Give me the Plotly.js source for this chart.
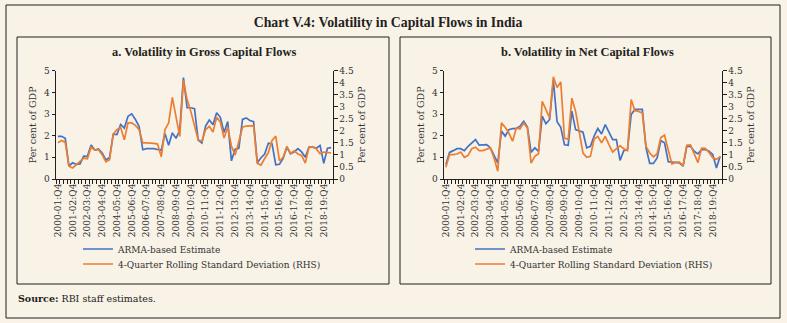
<!DOCTYPE html>
<html>
<head>
<meta charset="utf-8">
<script src="https://cdn.plot.ly/plotly-3.0.1.min.js"></script>
<style>
html,body{margin:0;padding:0;background:#f8f2e7;}
#chart{width:787px;height:323px;}
</style>
</head>
<body>
<div id="chart"></div>
<script>
// Quarter categories: 2000-01:Q4 ... 2019-20:Q2
const quarters = ["2000-01:Q4"];
for (let y = 2001; y <= 2019; y++) {
  const fy = y + "-" + String((y + 1) % 100).padStart(2, "0");
  for (const q of ["Q1", "Q2", "Q3", "Q4"]) {
    if (y === 2019 && q === "Q3") break;
    quarters.push(fy + ":" + q);
  }
}
const tickLabels = quarters.map((c, i) => (i % 4 === 0 ? c : ""));

// a. Gross capital flows
const grossArma = [1.97,1.97,1.88,0.60,0.75,0.68,0.70,1.06,1.05,1.57,
  1.34,1.39,1.20,0.88,0.99,2.07,2.05,2.52,2.35,2.90,
  3.01,2.75,2.42,1.35,1.40,1.41,1.40,1.36,1.33,2.10,
  1.56,2.13,1.88,2.25,4.68,3.29,3.29,3.25,1.80,1.66,
  2.44,2.72,2.51,3.06,2.85,2.15,2.65,0.84,1.38,1.42,
  2.75,2.82,2.70,2.65,0.75,0.98,1.15,1.65,1.62,0.66,
  0.68,0.95,1.47,1.16,1.25,1.40,1.25,1.00,1.47,1.47,
  1.42,1.55,0.72,1.42,1.45];
const grossRsd = [1.50,1.60,1.52,0.53,0.46,0.60,0.71,0.87,0.84,1.32,
  1.20,1.22,1.01,0.71,0.80,1.87,2.05,2.15,1.63,2.33,
  2.33,2.23,2.05,1.50,1.50,1.50,1.48,1.45,0.92,2.05,
  2.33,3.39,2.55,1.77,4.10,3.30,2.81,2.19,1.63,1.57,
  2.05,2.19,1.95,2.56,2.37,1.70,2.15,1.37,1.00,1.55,
  2.15,2.20,2.20,2.22,0.65,0.58,0.85,1.10,1.60,1.78,
  0.75,0.90,1.35,1.06,1.17,1.04,0.98,0.66,1.32,1.34,
  1.25,1.05,1.12,1.10,1.08];

// b. Net capital flows
const netArma = [0.66,1.23,1.31,1.40,1.40,1.31,1.51,1.67,1.82,1.56,
  1.56,1.59,1.44,1.05,0.74,2.21,1.98,2.28,2.33,2.33,
  2.44,2.67,2.40,1.23,1.44,1.28,2.90,2.55,2.75,4.55,
  2.65,2.39,1.58,1.56,3.13,2.28,2.21,2.16,1.44,1.51,
  1.98,2.33,2.08,2.51,2.16,1.82,1.82,0.86,1.31,1.36,
  2.98,3.21,3.21,3.21,1.44,0.72,0.72,0.97,1.77,1.67,
  0.80,0.77,0.74,0.74,0.59,1.51,1.51,1.28,1.16,1.36,
  1.36,1.28,1.13,0.51,1.05];
const netRsd = [0.49,1.01,1.01,1.04,1.12,0.90,0.98,1.26,1.32,1.18,
  1.18,1.22,1.29,0.87,0.32,2.33,2.15,1.91,1.57,2.12,
  2.08,2.33,2.12,0.66,0.94,1.05,3.23,2.88,2.54,4.25,
  3.80,4.03,1.70,1.65,3.36,2.81,1.91,1.08,0.90,0.94,
  1.66,1.77,1.50,1.77,1.43,1.12,1.26,1.38,1.26,1.18,
  3.30,2.84,2.81,2.74,1.35,1.08,0.92,1.05,1.72,1.82,
  1.20,0.62,0.70,0.70,0.55,1.40,1.42,1.08,0.68,1.28,
  1.27,1.10,0.88,0.82,0.92];

const seriesNames = ["ARMA-based Estimate", "4-Quarter Rolling Standard Deviation (RHS)"];
const panelTitles = ["a. Volatility in Gross Capital Flows", "b. Volatility in Net Capital Flows"];
const chartTitle = "Chart V.4: Volatility in Capital Flows in India";
const yTitle = "Per cent of GDP";
const sourceText = "<b>Source:</b> RBI staff estimates.";

const BLUE = "#4472c4", ORANGE = "#ed7d31", BG = "#f8f2e7", INK = "#231f20", TXT = "#333333";
const W = 787, H = 323;
const px = x => x / W, py = y => 1 - y / H;
const serif = "DejaVu Serif, serif";

function line(x, y, color, xa, ya, name, legend) {
  return {type: "scatter", mode: "lines", x: x, y: y, xaxis: xa, yaxis: ya, name: name,
    legend: legend, line: {color: color, width: 1.7}, hoverinfo: "skip"};
}
const data = [
  line(quarters, grossArma, BLUE, "x", "y", seriesNames[0], "legend"),
  line(quarters, grossRsd, ORANGE, "x", "y2", seriesNames[1], "legend2"),
  line(quarters, netArma, BLUE, "x2", "y3", seriesNames[0], "legend3"),
  line(quarters, netRsd, ORANGE, "x2", "y4", seriesNames[1], "legend4")
];

const tickFont = {family: serif, size: 9, color: TXT};
function xax(domain, anchor) {
  return {domain: domain, anchor: anchor, type: "category", range: [-0.5, quarters.length - 0.5],
    tickmode: "array", tickvals: quarters, ticktext: tickLabels, tickangle: -90,
    tickson: "boundaries", ticks: "outside", ticklen: 3.5, tickcolor: INK, tickwidth: 1,
    showline: true, linecolor: INK, linewidth: 1, showgrid: false, zeroline: false,
    tickfont: tickFont, fixedrange: true};
}
function yax(anchor, side, max, dtick, overlay) {
  const a = {anchor: anchor, side: side, range: [0, max], dtick: dtick, tick0: 0,
    ticks: "outside", ticklen: 3.5, tickcolor: INK, showline: true, linecolor: INK, linewidth: 1,
    showgrid: false, zeroline: false, tickfont: tickFont, fixedrange: true,
    title: {text: yTitle, font: {family: serif, size: 9.5, color: TXT}, standoff: 5},
    domain: [py(179), py(70.7)]};
  if (overlay) a.overlaying = overlay;
  return a;
}

const frames = [
  {x0: 6, y0: 5, x1: 780, y1: 318},
  {x0: 17, y0: 37, x1: 389, y1: 284},
  {x0: 400, y0: 37, x1: 771, y1: 284}
].map(r => ({type: "rect", xref: "paper", yref: "paper", x0: px(r.x0), x1: px(r.x1),
  y0: py(r.y1), y1: py(r.y0), line: {color: INK, width: 1}, fillcolor: "rgba(0,0,0,0)", layer: "below"}));

const legendBase = {orientation: "v", xanchor: "left", yanchor: "middle", bgcolor: "rgba(0,0,0,0)",
  font: {family: serif, size: 9, color: TXT}, itemwidth: 30, tracegroupgap: 0};
const legendSpots = [[78, 249], [78, 264], [470, 249], [470, 264]];

const layout = {
  width: W, height: H, margin: {l: 0, r: 0, t: 0, b: 0},
  paper_bgcolor: BG, plot_bgcolor: BG, showlegend: true,
  title: {text: "<b>" + chartTitle + "</b>", x: px(388), y: py(22), xanchor: "center", yanchor: "middle",
    font: {family: "Liberation Serif, serif", size: 13.8, color: INK}},
  xaxis: xax([px(56), px(333)], "y"),
  yaxis: yax("x", "left", 5, 1),
  yaxis2: yax("x", "right", 4.5, 0.5, "y"),
  xaxis2: xax([px(444), px(722)], "y3"),
  yaxis3: yax("x2", "left", 5, 1),
  yaxis4: yax("x2", "right", 4.5, 0.5, "y3"),
  shapes: frames,
  annotations: [
    {text: "<b>" + panelTitles[0] + "</b>", x: px(204), y: py(51.7)},
    {text: "<b>" + panelTitles[1] + "</b>", x: px(587), y: py(51.7)}
  ].map(a => Object.assign(a, {xref: "paper", yref: "paper", showarrow: false, xanchor: "center", yanchor: "middle",
    font: {family: "Liberation Serif, serif", size: 12.4, color: INK}})).concat([
    {text: sourceText, x: px(16), y: py(298), xref: "paper", yref: "paper", showarrow: false,
      xanchor: "left", yanchor: "middle", font: {family: serif, size: 9.5, color: INK}}
  ])
};
["legend", "legend2", "legend3", "legend4"].forEach((k, i) => {
  layout[k] = Object.assign({}, legendBase, {x: px(legendSpots[i][0]), y: py(legendSpots[i][1])});
});

Plotly.newPlot("chart", data, layout, {staticPlot: true, displayModeBar: false});
</script>
</body>
</html>
